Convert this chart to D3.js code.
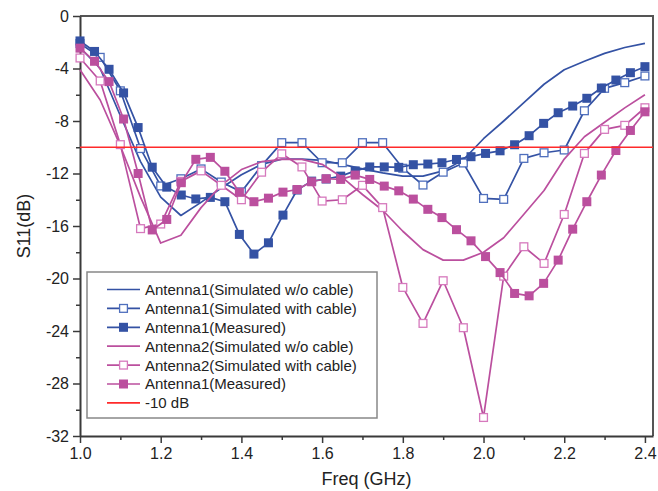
<!DOCTYPE html>
<html>
<head>
<meta charset="utf-8">
<script src="https://cdn.jsdelivr.net/npm/d3@7"></script>
<style>
  body { margin: 0; background: #fff; }
  svg { font-family: "Liberation Sans", Arial, sans-serif; }
</style>
</head>
<body>
<div id="chart"></div>
<script>
// frequency grids (GHz)
const freqSim = [1.00,1.05,1.10,1.15,1.20,1.25,1.30,1.35,1.40,1.45,1.50,1.55,1.60,1.65,1.70,1.75,1.80,1.85,1.90,1.95,2.00,2.05,2.10,2.15,2.20,2.25,2.30,2.35,2.40];
const freqMeas = [1.000,1.036,1.072,1.108,1.144,1.179,1.215,1.251,1.287,1.323,1.359,1.395,1.431,1.467,1.503,1.538,1.574,1.610,1.646,1.682,1.718,1.754,1.790,1.826,1.862,1.897,1.933,1.969,2.005,2.041,2.077,2.113,2.149,2.185,2.221,2.256,2.292,2.328,2.364,2.400];

// S11 values (dB)
const ant1SimNoCable = [-2.4,-4.0,-7.6,-11.1,-13.8,-15.2,-14.2,-13.1,-12.1,-11.3,-10.9,-10.9,-11.0,-11.3,-11.65,-11.95,-12.2,-12.2,-11.8,-10.95,-9.35,-8.0,-6.6,-5.2,-4.1,-3.45,-2.85,-2.4,-2.08];
const ant1SimCable = [-2.1,-3.15,-5.7,-10.1,-12.95,-12.4,-11.65,-12.65,-13.4,-11.4,-9.65,-9.65,-11.18,-11.18,-9.65,-9.65,-11.6,-12.88,-11.9,-11.2,-13.9,-13.97,-10.85,-10.42,-10.21,-7.22,-5.51,-5.08,-4.57];
const ant1Meas = [-1.9,-2.7,-4.06,-5.86,-8.5,-11.52,-13.04,-13.64,-13.94,-13.82,-14.15,-16.64,-18.14,-17.28,-15.17,-13.26,-12.58,-12.42,-12.2,-11.8,-11.5,-11.5,-11.53,-11.33,-11.28,-11.18,-10.93,-10.72,-10.47,-10.27,-9.81,-9.12,-8.18,-7.37,-6.86,-6.27,-5.49,-4.88,-4.32,-3.86];
const ant2SimNoCable = [-4.1,-6.4,-9.9,-13.8,-17.3,-16.7,-14.6,-12.9,-11.7,-11.1,-10.92,-10.92,-11.3,-12.3,-13.6,-14.8,-16.4,-17.8,-18.6,-18.6,-18.0,-16.9,-15.1,-13.3,-10.9,-9.2,-8.1,-7.0,-6.0];
const ant2SimCable = [-3.2,-4.95,-9.8,-16.2,-15.85,-12.6,-11.8,-12.9,-14.0,-11.9,-10.5,-11.5,-14.1,-14.0,-12.9,-14.6,-20.68,-23.42,-20.17,-23.75,-30.59,-19.82,-17.58,-18.85,-15.12,-10.47,-8.64,-8.33,-6.99];
const ant2Meas = [-2.45,-3.45,-5.0,-7.85,-12.0,-16.3,-15.5,-12.7,-10.92,-10.77,-11.83,-13.43,-14.15,-13.88,-13.42,-13.22,-12.63,-12.4,-12.45,-12.12,-12.45,-12.96,-13.32,-13.95,-14.73,-15.36,-16.28,-17.13,-18.33,-19.55,-21.14,-21.32,-20.37,-18.6,-16.24,-14.15,-12.12,-10.25,-8.72,-7.3];
const refLevel = -10;

const xTicks = [1.0,1.2,1.4,1.6,1.8,2.0,2.2,2.4];
const yTicks = [0,-4,-8,-12,-16,-20,-24,-28,-32];

const legendLabels = [
  'Antenna1(Simulated w/o cable)',
  'Antenna1(Simulated with cable)',
  'Antenna1(Measured)',
  'Antenna2(Simulated w/o cable)',
  'Antenna2(Simulated with cable)',
  'Antenna1(Measured)',
  '-10 dB'
];

const blue = '#3452a4', blueOpen = '#4f6fbd';
const pink = '#bb4f9e', pinkOpen = '#d679bd';
const red = '#ff2a2a';

const width = 658, height = 491;
const margin = {top: 16, right: 5, bottom: 55, left: 80};

const svg = d3.select('#chart').append('svg')
  .attr('width', width)
  .attr('height', height);

const x = d3.scaleLinear().domain([1.0, 2.42]).range([margin.left, width - margin.right]);
const y = d3.scaleLinear().domain([-32, 0]).range([height - margin.bottom, margin.top]);

const axisColor = '#3a3a3a';

// frame (top & right)
svg.append('path')
  .attr('d', `M${x.range()[0]},${y(0)}H${x.range()[1]}V${y(-32)}`)
  .attr('fill', 'none')
  .attr('stroke', '#555')
  .attr('stroke-width', 2);

// x axis
const gx = svg.append('g')
  .attr('transform', `translate(0,${y(-32)})`)
  .call(d3.axisBottom(x).tickValues(xTicks).tickFormat(d3.format('.1f')).tickSize(7).tickSizeOuter(0).tickPadding(5))
gx.append('g')
  .call(d3.axisBottom(x).tickValues(d3.range(1.1, 2.41, 0.2)).tickFormat('').tickSize(4).tickSizeOuter(0))
  .select('.domain').remove();

// y axis
const gy = svg.append('g')
  .attr('transform', `translate(${x(1.0)},0)`)
  .call(d3.axisLeft(y).tickValues(yTicks).tickFormat(d => String(d)).tickSize(7).tickSizeOuter(0).tickPadding(4))
gy.append('g')
  .call(d3.axisLeft(y).tickValues(d3.range(-30, 0, 4)).tickFormat('').tickSize(4).tickSizeOuter(0))
  .select('.domain').remove();

svg.selectAll('.domain').attr('stroke', axisColor).attr('stroke-width', 2);
svg.selectAll('.tick line').attr('stroke', axisColor).attr('stroke-width', 1.5);
svg.selectAll('.tick text').attr('fill', '#222').style('font-size', '16px');

// axis titles
svg.append('text')
  .attr('x', (x(1.0) + x(2.42)) / 2)
  .attr('y', 485)
  .attr('text-anchor', 'middle')
  .attr('fill', '#222')
  .style('font-size', '18px')
  .text('Freq (GHz)');

svg.append('text')
  .attr('transform', `translate(30,${(y(0) + y(-32)) / 2}) rotate(-90)`)
  .attr('text-anchor', 'middle')
  .attr('fill', '#222')
  .style('font-size', '18px')
  .text('S11(dB)');

const line = d3.line()
  .x(d => x(d[0]))
  .y(d => y(d[1]));

const zip = (fs, vs) => fs.map((f, i) => [f, vs[i]]);

const series = [
  {freq: freqSim, vals: ant1SimNoCable, color: blue, marker: null},
  {freq: freqSim, vals: ant1SimCable, color: blue, marker: 'open', mcolor: blueOpen},
  {freq: freqMeas, vals: ant1Meas, color: blue, marker: 'filled'},
  {freq: freqSim, vals: ant2SimNoCable, color: pink, marker: null},
  {freq: freqSim, vals: ant2SimCable, color: pink, marker: 'open', mcolor: pinkOpen},
  {freq: freqMeas, vals: ant2Meas, color: pink, marker: 'filled'}
];

const ms = 9;

const drawMarker = (g, s, px, py) => {
  if (s.marker === 'filled') {
    g.append('rect')
      .attr('x', px - ms / 2).attr('y', py - ms / 2)
      .attr('width', ms).attr('height', ms)
      .attr('fill', s.color);
  } else if (s.marker === 'open') {
    g.append('rect')
      .attr('x', px - ms / 2 + 0.6).attr('y', py - ms / 2 + 0.6)
      .attr('width', ms - 1.2).attr('height', ms - 1.2)
      .attr('fill', '#fff')
      .attr('stroke', s.mcolor)
      .attr('stroke-width', 1.3);
  }
}

series.forEach(s => {
  const data = zip(s.freq, s.vals);
  const g = svg.append('g');
  g.append('path')
    .datum(data)
    .attr('d', line)
    .attr('fill', 'none')
    .attr('stroke', s.color)
    .attr('stroke-width', 1.7)
    .attr('stroke-linejoin', 'round');
  if (s.marker) {
    data.forEach(d => drawMarker(g, s, x(d[0]), y(d[1])));
  }
});

// -10 dB reference
svg.append('line')
  .attr('x1', x(1.0)).attr('x2', x(2.42))
  .attr('y1', y(refLevel)).attr('y2', y(refLevel))
  .attr('stroke', red)
  .attr('stroke-width', 1.6);

// legend
const legend = svg.append('g').attr('transform', 'translate(87,272)');
legend.append('rect')
  .attr('width', 290).attr('height', 146)
  .attr('fill', '#fff')
  .attr('stroke', '#888')
  .attr('stroke-width', 1.5);

const legendItems = series.concat([{color: red, marker: null}]);
legendItems.forEach((s, i) => {
  const ly = 17.5 + i * 18.9;
  const row = legend.append('g');
  row.append('line')
    .attr('x1', 20).attr('x2', 53)
    .attr('y1', ly).attr('y2', ly)
    .attr('stroke', s.color)
    .attr('stroke-width', 1.7);
  if (s.marker) drawMarker(row, s, 36.5, ly);
  row.append('text')
    .attr('x', 58).attr('y', ly)
    .attr('dy', '0.36em')
    .attr('fill', '#222')
    .style('font-size', '15px')
    .text(legendLabels[i]);
});
</script>
</body>
</html>
